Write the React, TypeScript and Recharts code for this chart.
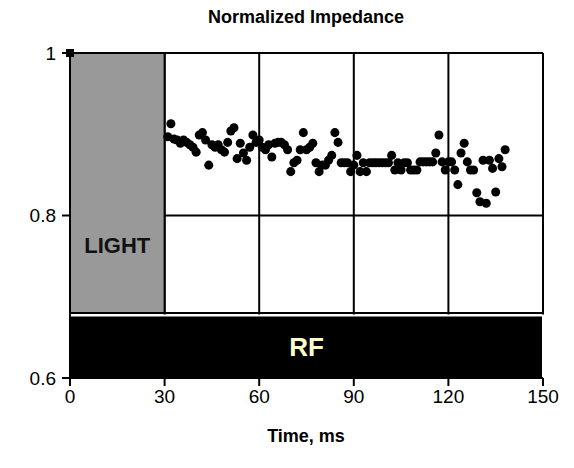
import React from 'react';
import {
  ScatterChart,
  Scatter,
  XAxis,
  YAxis,
  ZAxis,
  CartesianGrid,
  ReferenceArea,
  ReferenceLine,
  Label
} from 'recharts';

const startMs = 31;
const impedance = [
  0.897, 0.913, 0.894, 0.893, 0.889, 0.893, 0.890, 0.887, 0.884, 0.878,
  0.899, 0.902, 0.893, 0.862, 0.887, 0.884, 0.887, 0.881, 0.878, 0.890,
  0.904, 0.908, 0.870, 0.889, 0.877, 0.868, 0.884, 0.899, 0.890, 0.893,
  0.884, 0.881, 0.887, 0.872, 0.889, 0.890, 0.890, 0.887, 0.881, 0.854,
  0.865, 0.868, 0.881, 0.902, 0.881, 0.884, 0.889, 0.865, 0.854, 0.862,
  0.862, 0.868, 0.874, 0.902, 0.890, 0.865, 0.865, 0.865, 0.854, 0.862,
  0.874, 0.854, 0.865, 0.854, 0.865, 0.865, 0.865, 0.865, 0.865, 0.865,
  0.865, 0.874, 0.856, 0.865, 0.856, 0.865, 0.865, 0.856, 0.856, 0.856,
  0.866, 0.866, 0.866, 0.866, 0.866, 0.877, 0.899, 0.866, 0.856, 0.866,
  0.866, 0.856, 0.838, 0.877, 0.889, 0.866, 0.856, 0.856, 0.828, 0.817,
  0.868, 0.815, 0.868, 0.858, 0.829, 0.870, 0.860, 0.881
];
const xTicks = [0, 30, 60, 90, 120, 150];
const yTicks = [0.6, 0.8, 1];
const startPoint = [{ t: 0, v: 1 }];

// light pulse 0-30 ms, RF on the whole time
const lightWindow = [0, 30];
const rfBand = [0.6, 0.68];

const data = impedance.map((v, i) => ({ t: startMs + i, v }));

const font = '"Liberation Sans", Arial, sans-serif';

export default function App() {
  return (
    <div style={{ position: 'absolute', left: 0, top: 0, width: 574, height: 468, background: '#fff', fontFamily: font }}>
      <div style={{ position: 'absolute', top: 7, left: 0, width: 612, textAlign: 'center', fontWeight: 'bold', fontSize: 18 }}>
        Normalized Impedance
      </div>
      <ScatterChart width={574} height={468} margin={{ top: 53, right: 31, left: 30, bottom: 30 }}>
        <CartesianGrid stroke="#000" strokeWidth={2} horizontalValues={yTicks} verticalValues={xTicks} />
        <XAxis
          type="number"
          dataKey="t"
          domain={[0, 150]}
          ticks={xTicks}
          height={60}
          axisLine={{ stroke: '#000', strokeWidth: 2 }}
          tickLine={{ stroke: '#000', strokeWidth: 2 }}
          tickSize={8}
          tickMargin={4}
          tick={{ fill: '#000', fontSize: 19, fontFamily: font }}
        />
        <YAxis
          type="number"
          dataKey="v"
          domain={[0.6, 1]}
          ticks={yTicks}
          width={40}
          axisLine={{ stroke: '#000', strokeWidth: 2 }}
          tickLine={{ stroke: '#000', strokeWidth: 2 }}
          tickSize={8}
          tickMargin={6}
          tick={{ fill: '#000', fontSize: 19, fontFamily: font }}
          tickFormatter={(v: number) => String(v)}
        />
        <ZAxis range={[80, 80]} />
        <ReferenceArea
          x1={lightWindow[0]}
          x2={lightWindow[1]}
          y1={rfBand[1]}
          y2={1}
          fill="#999999"
          fillOpacity={1}
          stroke="#000"
          strokeWidth={2}
        >
          <Label value="LIGHT" position="insideBottom" offset={60} fill="#111" fontSize={22} fontWeight="bold" fontFamily={font} />
        </ReferenceArea>
        <ReferenceArea
          x1={0}
          x2={150}
          y1={rfBand[0]}
          y2={0.677}
          fill="#000"
          fillOpacity={1}
          stroke="#fff"
          strokeWidth={2}
        >
          <Label value="RF" position="center" fill="#FFFFCC" fontSize={26} fontWeight="bold" fontFamily={font} />
        </ReferenceArea>
        <ReferenceLine y={rfBand[1]} stroke="#000" strokeWidth={2} />
        <Scatter data={startPoint} fill="#000" shape="square" isAnimationActive={false} />
        <Scatter data={data} fill="#000" shape="circle" isAnimationActive={false} />
      </ScatterChart>
      <div style={{ position: 'absolute', top: 426, left: 0, width: 612, textAlign: 'center', fontWeight: 'bold', fontSize: 18 }}>
        Time, ms
      </div>
    </div>
  );
}
